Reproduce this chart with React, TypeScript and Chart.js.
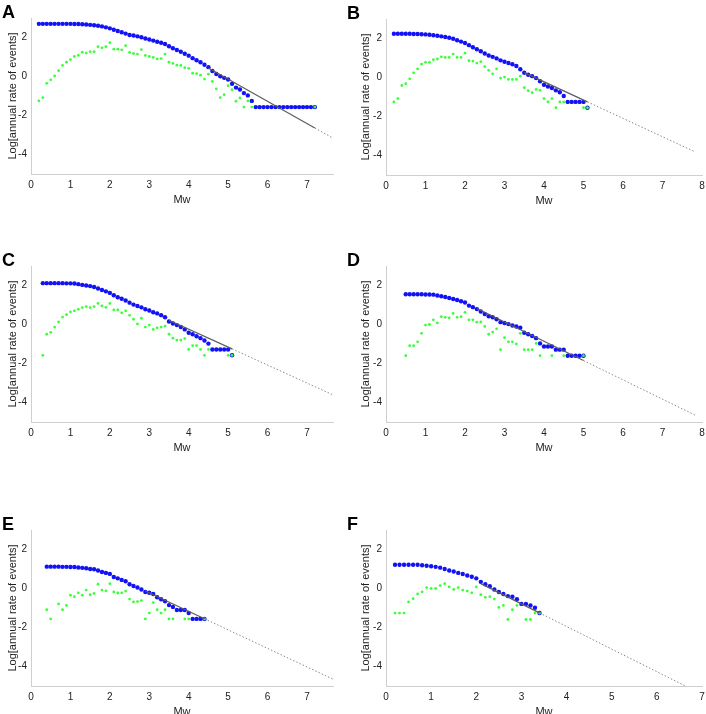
import { useEffect, useRef } from "react";
import { Chart, registerables } from "chart.js";

Chart.register(...registerables);
Chart.defaults.font.family = "'Liberation Sans', Arial, Helvetica, sans-serif";

// magnitude bins (Mw), shared by every panel
const MW_BINS = [
  0.2, 0.3, 0.4, 0.5, 0.6, 0.7, 0.8, 0.9, 1.0, 1.1,
  1.2, 1.3, 1.4, 1.5, 1.6, 1.7, 1.8, 1.9, 2.0, 2.1,
  2.2, 2.3, 2.4, 2.5, 2.6, 2.7, 2.8, 2.9, 3.0, 3.1,
  3.2, 3.3, 3.4, 3.5, 3.6, 3.7, 3.8, 3.9, 4.0, 4.1,
  4.2, 4.3, 4.4, 4.5, 4.6, 4.7, 4.8, 4.9, 5.0, 5.1,
  5.2, 5.3, 5.4, 5.5, 5.6, 5.7, 5.8, 5.9, 6.0, 6.1,
  6.2, 6.3, 6.4, 6.5, 6.6, 6.7, 6.8, 6.9, 7.0, 7.1,
  7.2,
];

const Y_TICKS = [-4, -2, 0, 2];
const X_TICKS_7 = [0, 1, 2, 3, 4, 5, 6, 7];
const X_TICKS_8 = [0, 1, 2, 3, 4, 5, 6, 7, 8];

// cumulative (blue) and incremental (green) log rates, aligned to MW_BINS
const cumA = [
  2.7, 2.7, 2.7, 2.7, 2.7, 2.7, 2.7, 2.7, 2.7, 2.69,
  2.69, 2.68, 2.67, 2.65, 2.63, 2.6, 2.57, 2.52, 2.47, 2.4,
  2.33, 2.27, 2.2, 2.13, 2.1, 2.06, 2.01, 1.95, 1.9, 1.84,
  1.78, 1.73, 1.67, 1.55, 1.45, 1.36, 1.27, 1.17, 1.07, 0.94,
  0.83, 0.73, 0.6, 0.48, 0.28, 0.13, 0.01, -0.07, -0.15, -0.37,
  -0.57, -0.67, -0.85, -0.97, -1.25, -1.57, -1.57, -1.57, -1.57, -1.57,
  -1.57, -1.57, -1.57, -1.57, -1.57, -1.57, -1.57, -1.57, -1.57, -1.57,
  -1.57,
];
const incA = [
  -1.25, -1.08, -0.35, -0.17, 0.03, 0.3, 0.57, 0.73, 0.87, 1.03,
  1.08, 1.25, 1.2, 1.28, 1.27, 1.53, 1.47, 1.53, 1.73, 1.4,
  1.4, 1.37, 1.58, 1.23, 1.18, 1.15, 1.38, 1.08, 1.03, 0.98,
  0.9, 0.92, 1.15, 0.73, 0.67, 0.58, 0.57, 0.45, 0.42, 0.17,
  0.15, 0.07, -0.13, 0.12, -0.25, -0.63, -1.08, -0.93, -0.47, -0.68,
  -1.27, -1.1, -1.57, -1.25, -1.57, null, null, null, null, null,
  null, null, null, null, null, null, null, null, null, null,
  -1.57,
];

const cumB = [
  2.24, 2.24, 2.24, 2.24, 2.24, 2.23, 2.23, 2.22, 2.21, 2.19,
  2.17, 2.14, 2.11, 2.08, 2.04, 1.99, 1.91, 1.84, 1.77, 1.66,
  1.55, 1.45, 1.35, 1.23, 1.13, 1.06, 0.98, 0.88, 0.81, 0.74,
  0.68, 0.59, 0.42, 0.24, 0.14, 0.07, -0.03, -0.19, -0.37, -0.46,
  -0.54, -0.66, -0.76, -0.95, -1.25, -1.25, -1.25, -1.25, -1.25, -1.55,
];
const incB = [
  -1.25, -1.08, -0.41, -0.32, -0.07, 0.24, 0.44, 0.69, 0.78, 0.78,
  0.91, 0.95, 1.06, 1.03, 1.03, 1.2, 1.03, 1.03, 1.25, 0.86,
  0.84, 0.74, 0.81, 0.56, 0.37, 0.19, 0.44, -0.03, 0.02, -0.1,
  -0.1, -0.1, 0.07, -0.52, -0.68, -0.78, -0.61, -0.66, -1.08, -1.25,
  -1.08, -1.55, -1.25, -1.25, null, null, null, null, -1.55, -1.55,
];

const cumC = [
  null, 2.12, 2.12, 2.12, 2.12, 2.12, 2.12, 2.11, 2.11, 2.1,
  2.07, 2.03, 2.0, 1.97, 1.92, 1.85, 1.77, 1.7, 1.62, 1.5,
  1.4, 1.32, 1.23, 1.12, 1.02, 0.95, 0.88, 0.78, 0.72, 0.63,
  0.57, 0.48, 0.37, 0.15, 0.05, -0.03, -0.13, -0.25, -0.42, -0.5,
  -0.6, -0.7, -0.82, -0.98, -1.28, -1.28, -1.28, -1.28, -1.28, -1.58,
];
const incC = [
  null, -1.58, -0.5, -0.4, -0.13, 0.13, 0.38, 0.5, 0.65, 0.7,
  0.78, 0.87, 0.92, 0.87, 0.92, 1.08, 0.95, 0.88, 1.08, 0.75,
  0.75, 0.6, 0.7, 0.47, 0.27, 0.03, 0.32, -0.13, -0.03, -0.25,
  -0.17, -0.13, -0.08, -0.5, -0.7, -0.8, -0.8, -0.72, -1.28, -1.08,
  -1.08, -1.28, -1.58, -1.28, null, null, null, null, -1.58, -1.58,
];

const cumD = [
  null, null, null, 1.55, 1.55, 1.55, 1.55, 1.55, 1.54, 1.54,
  1.53, 1.49, 1.45, 1.41, 1.36, 1.31, 1.26, 1.19, 1.13, 0.97,
  0.89, 0.79, 0.67, 0.54, 0.42, 0.37, 0.27, 0.12, 0.08, 0.02,
  -0.05, -0.1, -0.17, -0.42, -0.5, -0.59, -0.7, -0.97, -1.13, -1.13,
  -1.13, -1.29, -1.29, -1.29, -1.6, -1.6, -1.6, -1.6, -1.6,
];
const incD = [
  null, null, null, -1.6, -1.09, -1.09, -0.89, -0.45, -0.03, 0,
  0.24, 0.08, 0.4, 0.37, 0.34, 0.57, 0.37, 0.4, 0.62, 0.24,
  0.24, 0.12, 0.13, -0.1, -0.5, -0.39, -0.22, -1.29, -0.67, -0.89,
  -0.89, -1.0, -0.45, -1.29, -1.29, -1.29, -0.97, -1.6, null, null,
  -1.6, null, null, -1.6, null, null, null, null, -1.6,
];

const cumE = [
  null, null, 1.12, 1.12, 1.12, 1.12, 1.11, 1.11, 1.1, 1.1,
  1.08, 1.06, 1.04, 1.0, 0.99, 0.92, 0.85, 0.8, 0.75, 0.59,
  0.52, 0.44, 0.37, 0.22, 0.13, 0.05, -0.05, -0.18, -0.22, -0.28,
  -0.45, -0.55, -0.65, -0.85, -0.95, -1.1, -1.1, -1.1, -1.26, -1.56,
  -1.56, -1.56, -1.56,
];
const incE = [
  null, null, -1.09, -1.56, null, -0.79, -1.09, -0.87, -0.34, -0.42,
  -0.22, -0.34, -0.08, -0.32, -0.25, 0.22, -0.08, -0.12, 0.25, -0.18,
  -0.23, -0.22, -0.13, -0.54, -0.69, -0.67, -0.62, -1.56, -1.26, -0.72,
  -1.09, -1.26, -1.09, -1.56, -1.56, null, null, -1.56, -1.56, null,
  null, null, -1.56,
];

const cumF = [
  1.22, 1.22, 1.22, 1.22, 1.22, 1.22, 1.19, 1.17, 1.14, 1.11,
  1.07, 1.0, 0.92, 0.87, 0.8, 0.74, 0.67, 0.6, 0.52, 0.34,
  0.22, 0.12, -0.05, -0.18, -0.28, -0.39, -0.42, -0.55, -0.79, -0.79,
  -0.87, -0.99, -1.26,
];
const incF = [
  -1.26, -1.26, -1.26, -0.69, -0.52, -0.28, -0.17, 0.05, 0, 0,
  0.15, 0.25, 0.08, -0.05, 0.05, -0.08, -0.13, -0.22, 0.08, -0.32,
  -0.45, -0.42, -0.54, -0.97, -0.87, -1.59, -1.09, -0.87, null, -1.59,
  -1.59, -1.26, -1.26,
];

// Gutenberg-Richter fit: solid over the data, dotted extrapolation
const fitA = [{ x: 4.5, y: 0.44 }, { x: 7.2, y: -2.64 }];
const extA = [{ x: 7.2, y: -2.64 }, { x: 7.66, y: -3.16 }];
const fitB = [{ x: 3.5, y: 0.25 }, { x: 5.1, y: -1.25 }];
const extB = [{ x: 5.1, y: -1.25 }, { x: 7.8, y: -3.79 }];
const fitC = [{ x: 3.5, y: 0.22 }, { x: 5.1, y: -1.25 }];
const extC = [{ x: 5.1, y: -1.25 }, { x: 7.66, y: -3.61 }];
const fitD = [{ x: 2.3, y: 0.82 }, { x: 5.0, y: -1.85 }];
const extD = [{ x: 5.0, y: -1.85 }, { x: 7.82, y: -4.64 }];
const fitE = [{ x: 2.9, y: -0.13 }, { x: 4.4, y: -1.55 }];
const extE = [{ x: 4.4, y: -1.55 }, { x: 7.66, y: -4.65 }];
const fitF = [{ x: 2.1, y: 0.25 }, { x: 3.4, y: -1.25 }];
const extF = [{ x: 3.4, y: -1.25 }, { x: 6.63, y: -5.0 }];

type Pt = { x: number; y: number };

const toPoints = (vals: (number | null)[]): Pt[] =>
  vals.flatMap((v, i) => (v === null ? [] : [{ x: MW_BINS[i], y: v }]));

type PanelDef = {
  letter: string;
  cum: (number | null)[];
  inc: (number | null)[];
  fit: Pt[];
  ext: Pt[];
  xMax: number;
  xTicks: number[];
  plotLeft: number;
  plotTop: number;
  plotW: number;
  yW: number;
};

const PLOT_H = 160;
const PAD_TOP = 6;
const PAD_RIGHT = 8;
const X_AXIS_H = 34;

const panels: PanelDef[] = [
  { letter: "A", cum: cumA, inc: incA, fit: fitA, ext: extA, xMax: 7.66, xTicks: X_TICKS_7, plotLeft: 31, plotTop: 14, plotW: 302, yW: 31 },
  { letter: "B", cum: cumB, inc: incB, fit: fitB, ext: extB, xMax: 8, xTicks: X_TICKS_8, plotLeft: 385.7, plotTop: 15, plotW: 315.6, yW: 33 },
  { letter: "C", cum: cumC, inc: incC, fit: fitC, ext: extC, xMax: 7.66, xTicks: X_TICKS_7, plotLeft: 31, plotTop: 262, plotW: 302, yW: 31 },
  { letter: "D", cum: cumD, inc: incD, fit: fitD, ext: extD, xMax: 8, xTicks: X_TICKS_8, plotLeft: 385.7, plotTop: 262, plotW: 315.6, yW: 33 },
  { letter: "E", cum: cumE, inc: incE, fit: fitE, ext: extE, xMax: 7.66, xTicks: X_TICKS_7, plotLeft: 31, plotTop: 526, plotW: 302, yW: 31 },
  { letter: "F", cum: cumF, inc: incF, fit: fitF, ext: extF, xMax: 7, xTicks: X_TICKS_7, plotLeft: 385.7, plotTop: 526, plotW: 315.6, yW: 33 },
];

const TEXT = "#222";
const AXIS = "#cfcfcf";

function Panel({ p }: { p: PanelDef }) {
  const canvasRef = useRef<HTMLCanvasElement>(null);
  const w = Math.round(p.yW + p.plotW + PAD_RIGHT);
  const h = PAD_TOP + PLOT_H + X_AXIS_H;

  useEffect(() => {
    const canvas = canvasRef.current;
    if (!canvas) return;

    const chart = new Chart(canvas, {
      type: "scatter",
      data: {
        datasets: [
          {
            data: p.fit,
            showLine: true,
            borderColor: "#5c5c5c",
            borderWidth: 1.2,
            pointRadius: 0,
            order: 1,
          },
          {
            data: p.ext,
            showLine: true,
            borderColor: "#8a8a8a",
            borderWidth: 1,
            borderDash: [1.5, 2],
            pointRadius: 0,
            order: 2,
          },
          {
            data: toPoints(p.inc),
            backgroundColor: "rgb(60,255,60)",
            pointRadius: 1.4,
            pointBorderWidth: 0,
            order: 3,
          },
          {
            data: toPoints(p.cum),
            backgroundColor: "rgb(18,18,245)",
            pointRadius: 2.2,
            pointBorderWidth: 0,
            order: 4,
          },
        ],
      },
      options: {
        responsive: false,
        animation: false,
        events: [],
        layout: { padding: { top: PAD_TOP, right: PAD_RIGHT, left: 0, bottom: 0 } },
        plugins: { legend: { display: false }, tooltip: { enabled: false } },
        scales: {
          x: {
            type: "linear",
            min: 0,
            max: p.xMax,
            afterBuildTicks: (s) => {
              s.ticks = p.xTicks.map((value) => ({ value }));
            },
            afterFit: (s) => {
              s.height = X_AXIS_H;
            },
            grid: { display: false, drawTicks: false },
            border: { display: true, color: AXIS, width: 1 },
            ticks: { color: TEXT, font: { size: 10 }, padding: 5, maxRotation: 0 },
            title: {
              display: true,
              text: "Mw",
              color: TEXT,
              font: { size: 11 },
              padding: { top: 0, bottom: 1.4 },
            },
          },
          y: {
            type: "linear",
            min: -5,
            max: 3,
            afterBuildTicks: (s) => {
              s.ticks = Y_TICKS.map((value) => ({ value }));
            },
            afterFit: (s) => {
              s.width = p.yW;
            },
            grid: { display: false, drawTicks: false },
            border: { display: true, color: AXIS, width: 1 },
            ticks: { color: TEXT, font: { size: 10 }, padding: 4 },
            title: {
              display: true,
              text: "Log[annual rate of events]",
              color: TEXT,
              font: { size: 11 },
              padding: { top: 6.4, bottom: 0 },
            },
          },
        },
      },
    });

    return () => chart.destroy();
  }, [p]);

  return (
    <>
      <canvas
        ref={canvasRef}
        width={w}
        height={h}
        style={{
          position: "absolute",
          left: p.plotLeft - p.yW,
          top: p.plotTop - PAD_TOP,
          width: w,
          height: h,
        }}
      />
      <div
        style={{
          position: "absolute",
          left: p.plotLeft < 100 ? 2 : 347,
          top: p.plotTop - 11,
          font: "bold 18px 'Liberation Sans', Arial, sans-serif",
          lineHeight: 1,
          color: "#000",
        }}
      >
        {p.letter}
      </div>
    </>
  );
}

export default function App() {
  return (
    <div
      style={{
        position: "absolute",
        left: 0,
        top: 0,
        width: 706,
        height: 714,
        overflow: "hidden",
        background: "#fff",
      }}
    >
      {panels.map((p) => (
        <Panel key={p.letter} p={p} />
      ))}
    </div>
  );
}
